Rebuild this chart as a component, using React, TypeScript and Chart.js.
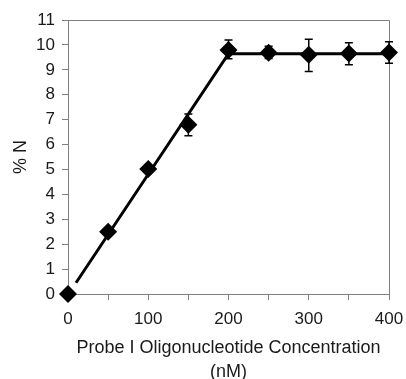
import React, { useEffect, useRef } from "react";
import { Chart, registerables } from "chart.js";

Chart.register(...registerables);

const concentrations = [0, 50, 100, 150, 200, 250, 300, 350, 400];
const percentN = [0, 2.5, 5.02, 6.79, 9.8, 9.69, 9.6, 9.66, 9.7];
const errLow = [0, 2.5, 5.02, 6.35, 9.44, 9.45, 8.93, 9.2, 9.26];
const errHigh = [0, 2.5, 5.02, 7.23, 10.2, 9.95, 10.23, 10.09, 10.13];
const fitX = [10, 200, 400];
const fitY = [0.45, 9.65, 9.65];
const xTitle = ["Probe I Oligonucleotide Concentration", "(nM)"];
const yTitle = "% N";

const AXIS_GRAY = "#7f7f7f";
const TEXT = "#1a1a1a";
const FONT = "'Liberation Sans', Arial, sans-serif";

const errorBarPlugin = {
  id: "errorBars",
  beforeDatasetsDraw(chart: any) {
    const { ctx, scales } = chart;
    const xs = scales.x;
    const ys = scales.y;
    ctx.save();
    ctx.strokeStyle = "#000";
    ctx.lineWidth = 1.5;
    for (let i = 0; i < concentrations.length; i++) {
      if (errHigh[i] === errLow[i]) continue;
      const px = xs.getPixelForValue(concentrations[i]);
      const pLo = ys.getPixelForValue(errLow[i]);
      const pHi = ys.getPixelForValue(errHigh[i]);
      ctx.beginPath();
      ctx.moveTo(px, pLo);
      ctx.lineTo(px, pHi);
      ctx.moveTo(px - 4, pLo);
      ctx.lineTo(px + 4, pLo);
      ctx.moveTo(px - 4, pHi);
      ctx.lineTo(px + 4, pHi);
      ctx.stroke();
    }
    ctx.restore();
  },
};

const framePlugin = {
  id: "frame",
  beforeDatasetsDraw(chart: any) {
    const { ctx, chartArea } = chart;
    ctx.save();
    ctx.strokeStyle = AXIS_GRAY;
    ctx.lineWidth = 1;
    ctx.beginPath();
    ctx.moveTo(chartArea.left, chartArea.top + 0.5);
    ctx.lineTo(chartArea.right + 0.5, chartArea.top + 0.5);
    ctx.lineTo(chartArea.right + 0.5, chartArea.bottom);
    ctx.stroke();
    ctx.restore();
  },
};

export default function App() {
  const ref = useRef<HTMLCanvasElement>(null);
  useEffect(() => {
    document.body.style.margin = "0";
    const chart = new Chart(ref.current as HTMLCanvasElement, {
      type: "scatter",
      data: {
        datasets: [
          {
            label: "fit",
            data: fitX.map((x, i) => ({ x, y: fitY[i] })),
            showLine: true,
            borderColor: "#000",
            borderWidth: 3,
            pointRadius: 0,
            clip: false as any,
          },
          {
            label: "data",
            data: concentrations.map((x, i) => ({ x, y: percentN[i] })),
            showLine: false,
            pointStyle: "rectRot",
            pointRadius: 9,
            backgroundColor: "#000",
            borderColor: "#000",
            borderWidth: 0,
            clip: false as any,
          },
        ],
      },
      options: {
        responsive: false,
        animation: false,
        events: [],
        layout: { padding: { top: 20, right: 17, left: 0, bottom: 0 } },
        plugins: { legend: { display: false }, tooltip: { enabled: false } },
        scales: {
          x: {
            type: "linear",
            min: 0,
            max: 400,
            afterFit(scale: any) {
              scale.height = 85;
              scale.paddingLeft = 0;
              scale.paddingRight = 0;
            },
            ticks: {
              stepSize: 50,
              autoSkip: false,
              maxRotation: 0,
              padding: 9,
              color: TEXT,
              font: { family: FONT, size: 17 },
              callback: (v: any) => (Number(v) % 100 === 0 ? String(v) : ""),
            },
            grid: { drawOnChartArea: false, drawTicks: true, tickLength: 6, color: AXIS_GRAY },
            border: { display: true, color: AXIS_GRAY, width: 1 },
            title: {
              display: true,
              text: xTitle,
              color: TEXT,
              font: { family: FONT, size: 18, lineHeight: 1.333 },
              padding: { top: 0, bottom: -5 },
            },
          },
          y: {
            type: "linear",
            min: 0,
            max: 11,
            afterFit(scale: any) {
              scale.width = 68;
              scale.paddingTop = 0;
              scale.paddingBottom = 0;
            },
            ticks: {
              stepSize: 1,
              autoSkip: false,
              padding: 7,
              color: TEXT,
              font: { family: FONT, size: 17 },
            },
            grid: { drawOnChartArea: false, drawTicks: true, tickLength: 6, color: AXIS_GRAY },
            border: { display: true, color: AXIS_GRAY, width: 1 },
            title: {
              display: true,
              text: yTitle,
              color: TEXT,
              font: { family: FONT, size: 18 },
              padding: { top: 10, bottom: 0 },
            },
          },
        },
      },
      plugins: [framePlugin, errorBarPlugin],
    } as any);
    return () => chart.destroy();
  }, []);
  return (
    <div style={{ position: "absolute", left: 0, top: 0, width: 406, height: 379 }}>
      <canvas ref={ref} width={406} height={379} style={{ display: "block" }} />
    </div>
  );
}
